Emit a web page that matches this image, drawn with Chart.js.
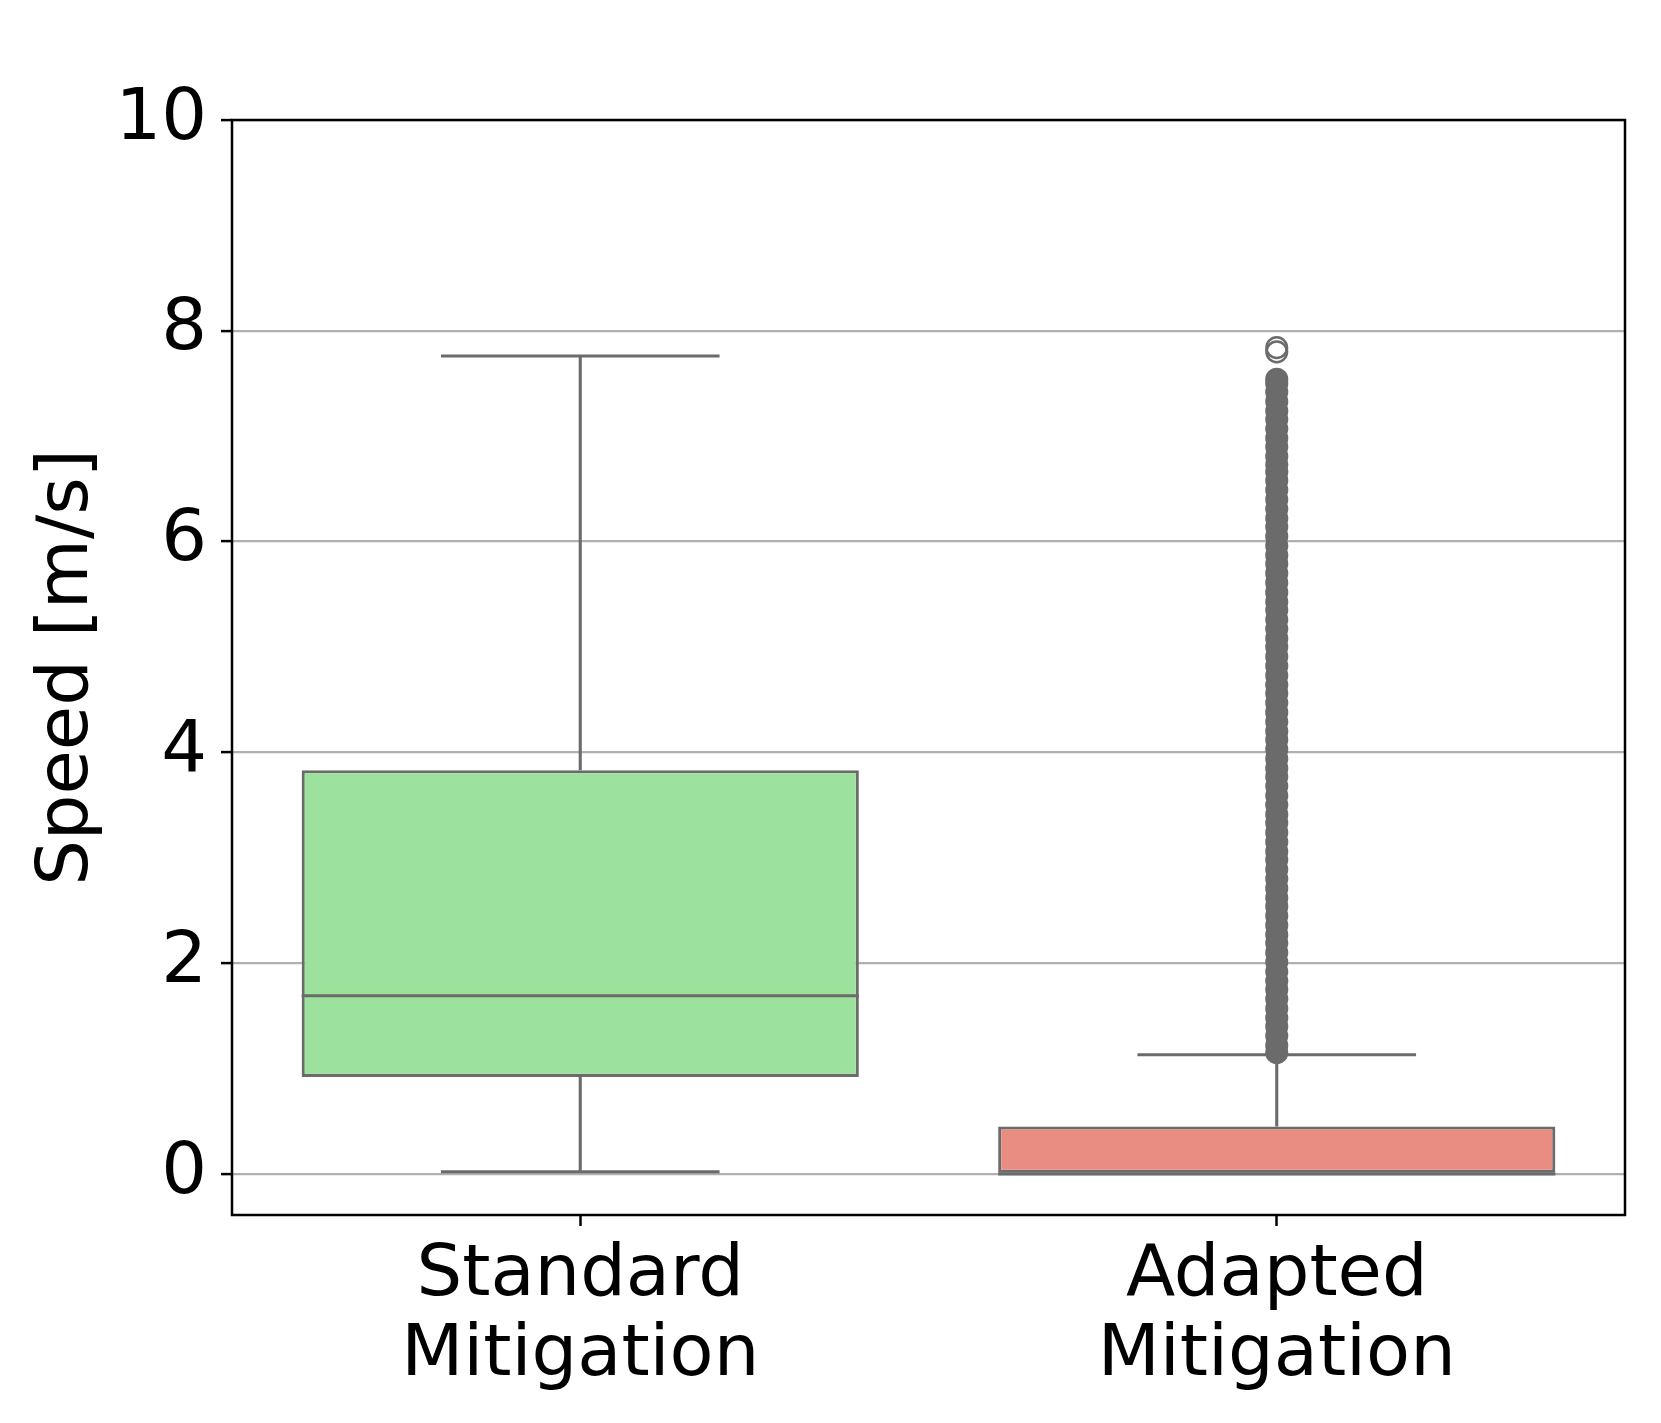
<!DOCTYPE html>
<html>
<head>
<meta charset="utf-8">
<script src="https://cdn.jsdelivr.net/npm/chart.js@4"></script>
<style>
  body { margin: 0; background: #fff; }
</style>
</head>
<body>
<canvas id="speed-box" width="1661" height="1423"></canvas>
<script>
// data
const categories = ['Standard Mitigation', 'Adapted Mitigation'];
const q1 = [0.92, 0.0];
const q3 = [3.83, 0.45];
const medians = [1.69, 0.0];
const whiskerLow = [0.02, 0.0];
const whiskerHigh = [7.76, 1.13];
// dense column of fliers for the adapted case
const adaptedFliers = [
	1.15, 1.22, 1.31, 1.40, 1.48, 1.57, 1.66, 1.75, 1.83, 1.92, 2.01, 2.10, 2.19,
	2.27, 2.36, 2.45, 2.54, 2.62, 2.71, 2.80, 2.89, 2.98, 3.06, 3.15, 3.24, 3.33,
	3.41, 3.50, 3.59, 3.68, 3.77, 3.85, 3.94, 4.03, 4.12, 4.20, 4.29, 4.38, 4.47,
	4.56, 4.64, 4.73, 4.82, 4.91, 5.00, 5.08, 5.17, 5.26, 5.35, 5.43, 5.52, 5.61,
	5.70, 5.79, 5.87, 5.96, 6.05, 6.14, 6.22, 6.31, 6.40, 6.49, 6.58, 6.66, 6.73,
	6.81, 6.90, 6.98, 7.07, 7.16, 7.24, 7.33, 7.42, 7.50, 7.54
];
const adaptedFliersTop = [7.80, 7.84];
const yTicks = [0, 2, 4, 6, 8, 10];
const yMin = -0.39;
const yMax = 10;

const boxColors = ['#9ce29c', '#e98d83'];
const lineGray = '#6b6b6b';

Chart.defaults.font.family = "'DejaVu Sans', sans-serif";
Chart.defaults.color = '#000';

const whiskers = {
	id: 'whiskers',
	afterDatasetDraw(chart, args) {
		if (args.index !== 0) return;
		const ctx = chart.ctx;
		const x = chart.scales.x, y = chart.scales.y;
		const bars = chart.getDatasetMeta(0).data;
		ctx.save();
		ctx.strokeStyle = lineGray;
		ctx.lineWidth = 3.1;
		categories.forEach((c, i) => {
			const cx = x.getPixelForValue(i);
			const half = bars[i].width / 2;
			const cap = half / 2;
			ctx.beginPath();
			ctx.moveTo(cx, y.getPixelForValue(q3[i]));
			ctx.lineTo(cx, y.getPixelForValue(whiskerHigh[i]));
			ctx.moveTo(cx, y.getPixelForValue(q1[i]));
			ctx.lineTo(cx, y.getPixelForValue(whiskerLow[i]));
			ctx.moveTo(cx - cap, y.getPixelForValue(whiskerHigh[i]));
			ctx.lineTo(cx + cap, y.getPixelForValue(whiskerHigh[i]));
			ctx.moveTo(cx - cap, y.getPixelForValue(whiskerLow[i]));
			ctx.lineTo(cx + cap, y.getPixelForValue(whiskerLow[i]));
			ctx.moveTo(cx - half, y.getPixelForValue(medians[i]));
			ctx.lineTo(cx + half, y.getPixelForValue(medians[i]));
			ctx.stroke();
		});
		ctx.restore();
	}
};

const frame = {
	id: 'frame',
	afterDraw(chart) {
		const a = chart.chartArea;
		const ctx = chart.ctx;
		ctx.save();
		ctx.strokeStyle = '#000';
		ctx.lineWidth = 2.5;
		ctx.strokeRect(a.left, a.top, a.right - a.left, a.bottom - a.top);
		ctx.restore();
	}
};

const flierStyle = {
	type: 'line',
	showLine: false,
	pointRadius: 10.3,
	pointHoverRadius: 10.3,
	pointBorderWidth: 2.5,
	pointBorderColor: lineGray,
	order: 1
};

new Chart(
	document.getElementById('speed-box'),
	{
		type: 'bar',
		data: {
			labels: categories,
			datasets: [
				{
					label: 'box',
					data: categories.map((c, i) => [q1[i], q3[i]]),
					backgroundColor: boxColors,
					borderColor: lineGray,
					borderWidth: 3.1,
					borderSkipped: false,
					categoryPercentage: 1,
					barPercentage: 0.8,
					order: 2
				},
				Object.assign({}, flierStyle, {
					label: 'fliers',
					data: adaptedFliers.map(v => ({ x: categories[1], y: v })),
					pointBackgroundColor: lineGray
				}),
				Object.assign({}, flierStyle, {
					label: 'fliers top',
					data: adaptedFliersTop.map(v => ({ x: categories[1], y: v })),
					pointBackgroundColor: 'rgba(0,0,0,0)'
				})
			]
		},
		options: {
			responsive: false,
			animation: false,
			layout: { padding: { top: 120, right: 36, left: 0, bottom: 0 } },
			plugins: {
				legend: { display: false },
				tooltip: { enabled: false }
			},
			scales: {
				x: {
					offset: true,
					border: { display: false },
					grid: {
						offset: false,
						drawOnChartArea: false,
						tickLength: 11,
						tickWidth: 2.5,
						tickColor: '#000'
					},
					ticks: {
						font: { size: 72, lineHeight: 1.11 },
						padding: 10,
						maxRotation: 0,
						callback: function(v) { return this.getLabelForValue(v).split(' '); }
					},
					afterFit: s => { s.height = 208; }
				},
				y: {
					min: yMin,
					max: yMax,
					border: { display: false },
					grid: {
						color: '#b0b0b0',
						lineWidth: 2.2,
						tickLength: 11,
						tickWidth: 2.5,
						tickColor: '#000'
					},
					ticks: {
						font: { size: 72 },
						padding: 14
					},
					afterBuildTicks: s => { s.ticks = yTicks.map(v => ({ value: v })); },
					title: {
						display: true,
						text: 'Speed [m/s]',
						font: { size: 72 },
						padding: { top: 25, bottom: 0 }
					},
					afterFit: s => { s.width = 232; }
				}
			}
		},
		plugins: [whiskers, frame]
	}
);
</script>
</body>
</html>
